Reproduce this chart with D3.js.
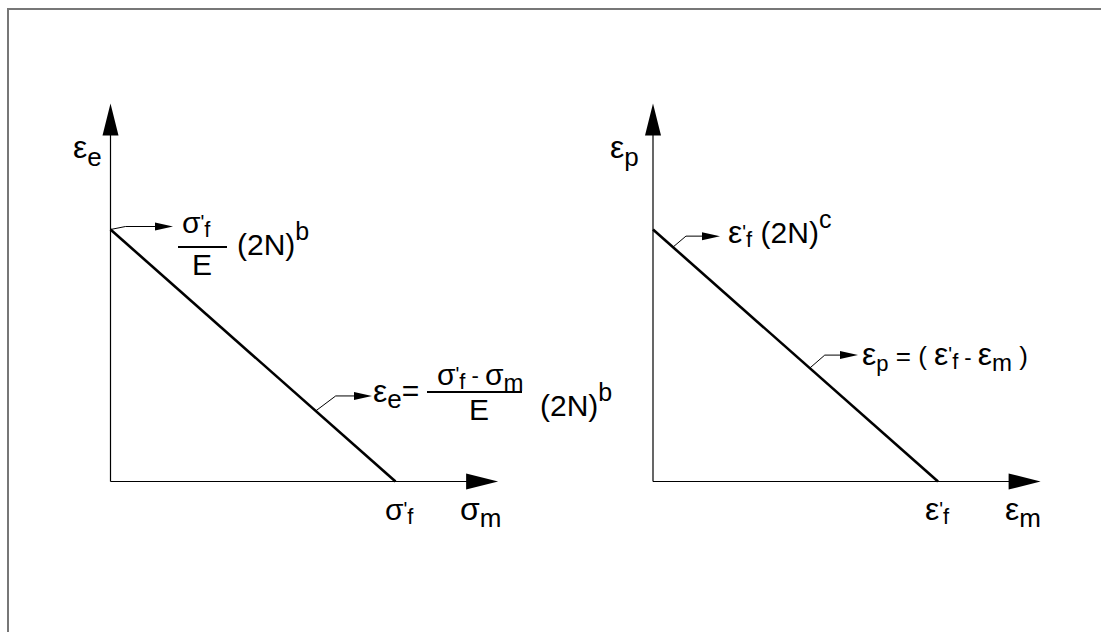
<!DOCTYPE html>
<html><head><meta charset="utf-8">
<script src="https://cdn.jsdelivr.net/npm/d3@7"></script>
<style>
body{margin:0;background:#fff}
svg{display:block}
text{font-family:"Liberation Sans",Arial,Helvetica,sans-serif;fill:#000}
</style>
</head><body>
<svg id="chart" width="1101" height="632"></svg>
<script>
// Mean-stress correction diagrams: elastic (left) and plastic (right) strain amplitude.
// Abscissa/ordinate normalised so both intercepts sit at 1.
const panelNames = ["elastic", "plastic"];
const lineStartX = [0, 0];     // line meets ordinate at mean = 0
const lineStartY = [1, 1];     // sigma'f/E (2N)^b  |  eps'f (2N)^c
const lineEndX = [1, 1];       // sigma'f  |  eps'f
const lineEndY = [0, 0];
const axisEndX = [1.36, 1.36];
const axisEndY = [1.5, 1.5];
const topLeaderT = [0, 0.07];  // where the intercept label's leader touches the line
const midLeaderT = [0.72, 0.55];

const svg = d3.select("#chart");

// frame (top and left edges)
svg.append("line").attr("x1", 7).attr("x2", 1101).attr("y1", 9).attr("y2", 9)
  .attr("stroke", "#777").attr("stroke-width", 2);
svg.append("line").attr("x1", 8).attr("x2", 8).attr("y1", 8).attr("y2", 632)
  .attr("stroke", "#777").attr("stroke-width", 2);

const originX = [110.5, 653];
const originY = 481.5;
const unitX = 285, unitY = 252;

function rich(g, x, y, parts, anchor) {
  const t = g.append("text").attr("x", x).attr("y", y).attr("text-anchor", anchor || "start");
  parts.forEach(p => {
    const s = t.append("tspan").text(p.t).attr("font-size", p.s);
    if (p.dy) s.attr("dy", p.dy);
    if (p.dx) s.attr("dx", p.dx);
  });
  return t;
}

function arrowHead(g, tipX, tipY, dir, len, half) {
  let pts;
  if (dir === "up") pts = [[tipX, tipY], [tipX - half, tipY + len], [tipX + half, tipY + len]];
  else pts = [[tipX, tipY], [tipX - len, tipY - half], [tipX - len, tipY + half]];
  g.append("polygon").attr("points", pts.map(p => p.join(",")).join(" ")).attr("fill", "#000");
}

function leader(g, x0, y0, kx, ky, tipX) {
  g.append("path").attr("d", `M${x0},${y0}L${kx},${ky}L${tipX - 12},${ky}`)
    .attr("fill", "none").attr("stroke", "#000").attr("stroke-width", 1);
  arrowHead(g, tipX, ky, "right", 18, 4);
}

const panels = panelNames.map((name, i) => {
  const x = d3.scaleLinear().domain([0, 1]).range([originX[i], originX[i] + unitX]);
  const y = d3.scaleLinear().domain([0, 1]).range([originY, originY - unitY]);
  const g = svg.append("g").attr("class", name);

  // axes
  g.append("line").attr("x1", x(0)).attr("x2", x(0)).attr("y1", y(0)).attr("y2", y(axisEndY[i]) + 10)
    .attr("stroke", "#000").attr("stroke-width", 1.2);
  arrowHead(g, x(0), y(axisEndY[i]), "up", 32, 8);
  g.append("line").attr("x1", x(0)).attr("x2", x(axisEndX[i]) - 10).attr("y1", y(0)).attr("y2", y(0))
    .attr("stroke", "#000").attr("stroke-width", 1.2);
  arrowHead(g, x(axisEndX[i]), y(0), "right", 32, 8);

  // straight-line relation
  g.append("line")
    .attr("x1", x(lineStartX[i])).attr("y1", y(lineStartY[i]))
    .attr("x2", x(lineEndX[i])).attr("y2", y(lineEndY[i]))
    .attr("stroke", "#000").attr("stroke-width", 2.6);

  const at = t => [x(lineStartX[i] + (lineEndX[i] - lineStartX[i]) * t),
                   y(lineStartY[i] + (lineEndY[i] - lineStartY[i]) * t)];
  return { g, x, y, at };
});

// ---- elastic panel labels
{
  const { g, at } = panels[0];
  rich(g, 73, 158, [{ t: "ε", s: 32 }, { t: "e", s: 26, dy: 8 }]);

  const [tx, ty] = at(topLeaderT[0]);
  leader(g, tx, ty, tx + 15, ty - 3, 173);
  rich(g, 182, 233, [{ t: "σ", s: 30 }, { t: "'", s: 20, dy: -4 }, { t: "f", s: 22, dy: 8 }]);
  g.append("line").attr("x1", 178).attr("x2", 227).attr("y1", 247).attr("y2", 247)
    .attr("stroke", "#000").attr("stroke-width", 2);
  rich(g, 202, 275, [{ t: "E", s: 30 }], "middle");
  rich(g, 237, 255, [{ t: "(2N)", s: 30 }, { t: "b", s: 25, dy: -15 }]);

  const [mx, my] = at(midLeaderT[0]);
  leader(g, mx, my, mx + 20, my - 15, 372);
  rich(g, 373, 402, [{ t: "ε", s: 32 }, { t: "e", s: 26, dy: 6 }, { t: "=", s: 30, dy: -7 }]);
  rich(g, 437, 385, [{ t: "σ", s: 30 }, { t: "'", s: 20, dy: -4 }, { t: "f", s: 22, dy: 8 },
                     { t: " - ", s: 22, dy: -6 }, { t: "σ", s: 30, dy: 2 }, { t: "m", s: 24, dy: 6 }]);
  g.append("line").attr("x1", 427).attr("x2", 522).attr("y1", 392).attr("y2", 392)
    .attr("stroke", "#000").attr("stroke-width", 2);
  rich(g, 479, 420, [{ t: "E", s: 30 }], "middle");
  rich(g, 540, 416, [{ t: "(2N)", s: 30 }, { t: "b", s: 25, dy: -15 }]);

  rich(g, 385, 520, [{ t: "σ", s: 30 }, { t: "'", s: 20, dy: -4 }, { t: "f", s: 22, dy: 8 }]);
  rich(g, 460, 520, [{ t: "σ", s: 32 }, { t: "m", s: 26, dy: 7 }]);
}

// ---- plastic panel labels
{
  const { g, at } = panels[1];
  rich(g, 610, 158, [{ t: "ε", s: 32 }, { t: "p", s: 26, dy: 8 }]);

  const [tx, ty] = at(topLeaderT[1]);
  leader(g, tx, ty, tx + 13, ty - 11, 720);
  rich(g, 728, 243, [{ t: "ε", s: 32 }, { t: "'", s: 20, dy: -4 }, { t: "f", s: 22, dy: 8 },
                     { t: " (2N)", s: 30, dy: -4 }, { t: "c", s: 25, dy: -15 }]);

  const [mx, my] = at(midLeaderT[1]);
  leader(g, mx, my, mx + 15, my - 13, 858);
  rich(g, 862, 365, [{ t: "ε", s: 32 }, { t: "p", s: 22, dy: 6 }, { t: " = ( ", s: 26, dy: -6 },
                     { t: "ε", s: 32 }, { t: "'", s: 20, dy: -4 }, { t: "f", s: 22, dy: 8 },
                     { t: "  -  ", s: 22, dy: -4 }, { t: "ε", s: 32 }, { t: "m", s: 24, dy: 6 },
                     { t: " )", s: 26, dy: -6 }]);

  rich(g, 925, 520, [{ t: "ε", s: 32 }, { t: "'", s: 20, dy: -4 }, { t: "f", s: 22, dy: 8 }]);
  rich(g, 1005, 520, [{ t: "ε", s: 32 }, { t: "m", s: 26, dy: 7 }]);
}
</script>
</body></html>
